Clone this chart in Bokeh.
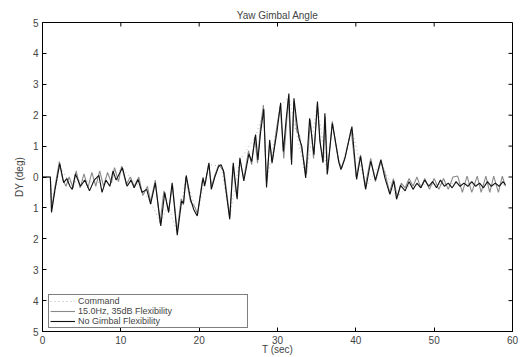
import math
from bokeh.plotting import figure
from bokeh.models import Range1d, Legend, LegendItem, FixedTicker
from bokeh.embed import file_html
from bokeh.resources import INLINE

# ---- data ----
t_nogimbal = [0, 1.0, 1.15, 1.6, 2.2, 2.7, 3.1, 3.5, 3.8, 4.2, 4.85, 5.4, 6.0, 6.6, 7.2, 7.6, 8.1, 8.6, 9.0, 9.4,
              10.2, 10.8, 11.3, 11.7, 12.2, 12.7, 13.3, 13.8, 14.4, 15.1, 15.6, 16.1, 16.55, 17.2, 17.75, 18.0,
              18.35, 18.9, 19.3, 19.75, 20.5, 20.7, 21.25, 21.55, 22.0, 22.5, 22.8, 23.1, 23.9, 24.35, 24.85,
              25.2, 25.7, 26.35, 26.7, 27.2, 27.5, 27.85, 28.25, 28.6, 29.0, 29.3, 29.95, 30.4, 30.75, 31.1,
              31.45, 31.8, 32.1, 32.5, 32.75, 33.1, 33.6, 34.1, 34.65, 35.1, 35.4, 35.8, 36.05, 36.35, 37.0,
              37.3, 37.85, 38.1, 38.6, 39.5, 40.1, 40.6, 41.25, 41.9, 42.5, 43.2, 43.7, 44.35, 44.85, 45.2,
              45.7, 46.3, 46.8, 47.3, 47.8, 48.3, 48.8, 49.3, 49.8, 50.3, 50.8, 51.3, 51.8, 52.3, 52.8, 53.3,
              53.8, 54.3, 54.8, 55.3, 55.8, 56.3, 56.8, 57.3, 57.8, 58.3, 58.8, 59.1]
y_nogimbal = [0, 0, -1.15, -0.4, 0.43, -0.18, -0.05, -0.3, -0.4, 0.1, -0.3, -0.1, -0.45, -0.1, 0.05, -0.5, -0.1,
              -0.3, 0.2, -0.1, 0.3, -0.3, -0.1, -0.35, -0.08, -0.5, -0.4, -0.88, -0.19, -1.58, -0.5, -1.15,
              -0.19, -1.88, -0.78, -0.85, 0.05, -0.72, -1.05, -1.26, -0.02, -0.3, 0.46, -0.4, 0.0, 0.35, 0.4,
              0.2, -1.37, 0.46, -0.72, 0.62, -0.13, 0.75, 0.5, 1.37, 0.55, 1.47, 2.2, -0.34, 1.2, 0.45, 1.5,
              2.4, 0.83, 1.85, 2.7, 0.4, 2.55, 1.7, 1.26, 1.0, -0.03, 1.9, 0.72, 2.44, 1.2, 0.46, 2.06, 0.08,
              1.74, 1.3, 0.46, 0.24, 0.6, 1.63, -0.08, 0.67, -0.4, 0.51, -0.1, 0.56, -0.02, -0.56, -0.13,
              -0.72, -0.27, -0.45, -0.15, -0.4, -0.2, -0.35, -0.1, -0.3, -0.15, -0.35, -0.1, -0.3, -0.2, -0.35,
              -0.15, -0.3, -0.2, -0.3, -0.15, -0.3, -0.2, -0.35, -0.15, -0.3, -0.2, -0.3, -0.15, -0.25]

t_flex = [0, 1.0, 1.2, 1.6, 2.15, 2.6, 3.0, 3.4, 3.9, 4.3, 4.8, 5.3, 5.8, 6.3, 6.8, 7.3, 7.8, 8.3, 8.8, 9.2, 9.7,
          10.1, 10.7, 11.2, 11.7, 12.3, 12.8, 13.4, 13.8, 14.4, 15.0, 15.5, 16.1, 16.6, 17.2, 17.7, 18.0, 18.3,
          18.9, 19.4, 19.8, 20.4, 20.8, 21.2, 21.6, 22.0, 22.5, 22.8, 23.2, 23.9, 24.3, 24.8, 25.2, 25.7, 26.3,
          26.7, 27.1, 27.45, 27.8, 28.2, 28.6, 29.0, 29.35, 29.9, 30.35, 30.8, 31.15, 31.4, 31.75, 32.1, 32.45,
          32.8, 33.1, 33.7, 34.2, 34.6, 35.1, 35.45, 35.85, 36.1, 36.4, 37.0, 37.35, 37.8, 38.2, 38.7, 39.4,
          40.05, 40.6, 41.2, 41.9, 42.5, 43.2, 43.8, 44.3, 44.8, 45.3, 45.8, 46.3, 46.8, 47.3, 47.8, 48.3,
          48.8, 49.4, 50.0, 50.6, 51.2, 51.8, 52.4, 53.0, 53.6, 54.2, 54.8, 55.5, 56.0, 56.6, 57.1, 57.6,
          58.2, 58.7, 59.1]
y_flex = [0, 0, -1.0, -0.3, 0.5, -0.1, -0.3, 0.0, -0.35, 0.2, -0.35, 0.1, -0.35, 0.15, -0.3, 0.2, -0.3, 0.15,
          -0.2, 0.3, -0.15, 0.35, -0.25, 0.0, -0.3, 0.0, -0.6, -0.3, -0.8, -0.1, -1.5, -0.45, -1.1, -0.25,
          -1.75, -0.7, -0.9, 0.0, -0.8, -0.95, -1.2, -0.1, -0.2, 0.4, -0.3, 0.05, 0.4, 0.3, 0.15, -1.3, 0.35,
          -0.65, 0.55, -0.05, 0.85, 0.4, 1.3, 0.45, 1.55, 2.33, -0.2, 1.1, 0.55, 1.6, 2.3, 0.6, 1.75, 2.55,
          0.55, 2.45, 1.5, 1.35, 0.85, 0.1, 1.85, 0.6, 2.35, 1.1, 0.5, 1.95, 0.15, 1.8, 1.2, 0.5, 0.3, 0.7,
          1.55, 0.0, 0.72, -0.3, 0.6, -0.15, 0.5, 0.05, -0.5, -0.05, -0.65, -0.2, -0.35, -0.05, -0.3, 0.0,
          -0.35, -0.05, -0.4, -0.05, -0.4, -0.05, -0.4, 0.0, 0.03, -0.5, 0.03, -0.5, 0.03, -0.5, 0.03, -0.5,
          0.03, -0.5, 0.03, -0.3]

t_command = [0, 1.0, 1.3, 2.2, 3.5, 5.0, 7.0, 9.0, 10.2, 12.0, 13.8, 15.1, 16.0, 17.2, 18.3, 19.75, 21.2, 22.8,
             23.9, 25.2, 27.2, 28.2, 28.6, 30.4, 31.45, 33.6, 35.1, 36.35, 37.0, 38.1, 39.5, 41.25, 43.2,
             45.2, 47.0, 50.0, 53.0, 56.0, 59.1]
y_command = [0, 0, -0.9, 0.35, -0.2, -0.1, -0.2, 0.1, 0.25, -0.2, -0.8, -1.5, -0.9, -1.8, 0.0, -1.2, 0.4, 0.35,
             -1.3, 0.55, 1.3, 2.1, -0.2, 2.3, 2.6, 0.0, 2.35, 0.1, 1.7, 0.25, 1.55, -0.35, 0.5, -0.65, -0.25,
             -0.25, -0.2, -0.25, -0.25]

title_text = "Yaw Gimbal Angle"
labels = ["Command", "15.0Hz, 35dB Flexibility", "No Gimbal Flexibility"]
x_ticks = [0, 10, 20, 30, 40, 50, 60]
y_ticks = [-5, -4, -3, -2, -1, 0, 1, 2, 3, 4, 5]
y_tick_labels = {-5: "5", -4: "4", -3: "3", -2: "2", -1: "1", 0: "0", 1: "1", 2: "2", 3: "3", 4: "4", 5: "5"}

FONT = "Liberation Sans"
X0, X1, Y0, Y1 = 0, 60, -5, 5

p = figure(width=523, height=357, output_backend="svg", toolbar_location=None,
           x_range=Range1d(X0, X1), y_range=Range1d(Y0, Y1),
           min_border_left=42, min_border_right=11, min_border_top=22, min_border_bottom=24,
           x_axis_label="T (sec)", y_axis_label="DY (deg)")
p.title.text = title_text
p.title.align = "center"
p.title.text_font = FONT
p.title.text_font_size = "10px"
p.title.text_font_style = "normal"
p.title.offset = 0
p.title.standoff = 4
p.xgrid.visible = False
p.ygrid.visible = False
p.outline_line_color = "black"
p.background_fill_color = "white"
p.border_fill_color = "white"

for ax in p.xaxis:
    ax.ticker = FixedTicker(ticks=x_ticks)
for ax in p.yaxis:
    ax.ticker = FixedTicker(ticks=y_ticks)
    ax.major_label_overrides = y_tick_labels

for ax in list(p.xaxis) + list(p.yaxis):
    ax.major_tick_in = 4
    ax.major_tick_out = 0
    ax.minor_tick_line_color = None
    ax.major_label_text_font = FONT
    ax.major_label_text_font_size = "10px"
    ax.axis_label_text_font = FONT
    ax.axis_label_text_font_size = "10px"
    ax.axis_label_text_font_style = "normal"
    ax.axis_line_color = "black"
p.xaxis.major_label_standoff = 4
p.xaxis.axis_label_standoff = -3
p.yaxis.major_label_standoff = 4
p.yaxis.axis_label_standoff = 5

# inward tick marks on the top and right frame edges (screen-length rays from the tick values)
p.ray(x=x_ticks, y=[Y1] * len(x_ticks), length=4, length_units="screen",
      angle=-math.pi / 2, line_color="black", line_width=1)
p.ray(x=[X1] * len(y_ticks), y=y_ticks, length=4, length_units="screen",
      angle=math.pi, line_color="black", line_width=1)

r_cmd = p.line(t_command, y_command, line_color="#b0b0b0", line_width=1, line_dash="1 3")
r_flex = p.line(t_flex, y_flex, line_color="#8a8a8a", line_width=1.1)
r_nog = p.line(t_nogimbal, y_nogimbal, line_color="#111111", line_width=1.1)

legend = Legend(items=[LegendItem(label=labels[0], renderers=[r_cmd]),
                       LegendItem(label=labels[1], renderers=[r_flex]),
                       LegendItem(label=labels[2], renderers=[r_nog])],
                location=(6, 3), label_text_font=FONT, label_text_font_size="9px",
                label_height=6, glyph_height=6, glyph_width=25, spacing=0, padding=1, margin=0,
                label_standoff=3, label_width=168, border_line_color="black", border_line_width=1,
                background_fill_alpha=1)
p.add_layout(legend, "center")

open("out.html", "w").write(file_html(p, INLINE))
